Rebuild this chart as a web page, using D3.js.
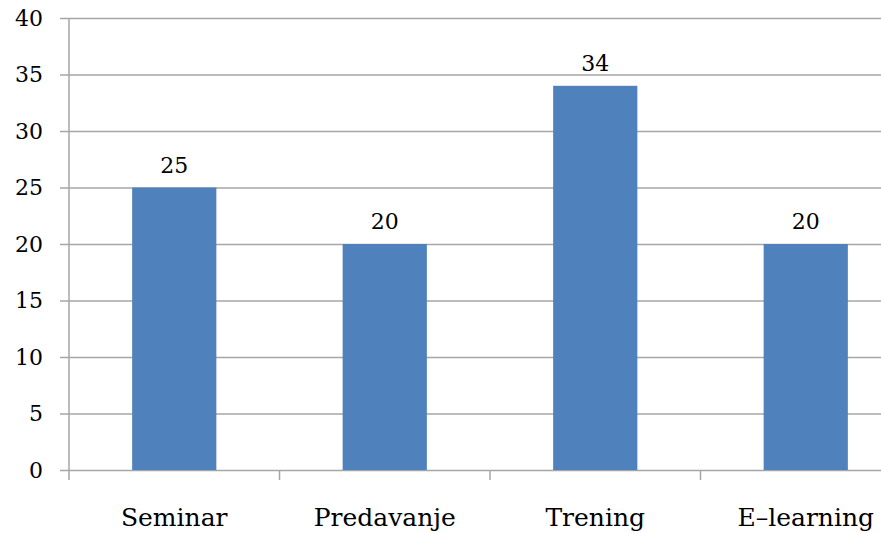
<!DOCTYPE html>
<html><head><meta charset="utf-8">
<script src="https://cdn.jsdelivr.net/npm/d3@7"></script>
<style>
body{margin:0;background:#fff;}
</style></head>
<body><svg id="c" width="881" height="533"></svg>
<script>
const categories = ["Seminar","Predavanje","Trening","E-learning"];
const values = [25,20,34,20];
const yTicks = [0,5,10,15,20,25,30,35,40];

const FONT = "'DejaVu Serif', serif";
const svg = d3.select("#c");
const x0 = 69, catW = 210.5;
const x = d3.scaleBand().domain(categories).range([x0, x0 + catW*4]).paddingInner(0.6).paddingOuter(0.3);
const y = d3.scaleLinear().domain([0,40]).range([470,18]);

// gridlines
svg.append("g").selectAll("line").data(yTicks).join("line")
  .attr("x1",60).attr("x2",881).attr("y1",d=>y(d)+0.5).attr("y2",d=>y(d)+0.5)
  .attr("stroke","#a6a6a6").attr("stroke-width",1.5);
// y axis line
svg.append("line").attr("x1",x0).attr("x2",x0).attr("y1",18).attr("y2",470).attr("stroke","#a6a6a6").attr("stroke-width",1.5);
// y labels
svg.append("g").selectAll("text").data(yTicks).join("text")
  .attr("font-family",FONT)
  .attr("x",43).attr("y",d=>y(d)).attr("dy","0.35em").attr("text-anchor","end")
  .attr("font-size",22).text(d=>d);
// x ticks
const xt = d3.range(5).map(i=>x0+i*catW);
svg.append("g").selectAll("line").data(xt).join("line")
  .attr("x1",d=>d).attr("x2",d=>d).attr("y1",470).attr("y2",480)
  .attr("stroke","#a6a6a6").attr("stroke-width",1.5);
// bars
svg.append("g").selectAll("rect").data(values).join("rect")
  .attr("x",(d,i)=>x(categories[i])).attr("width",x.bandwidth())
  .attr("y",d=>y(d)).attr("height",d=>y(0)-y(d)).attr("fill","#4f81bd");
// value labels
svg.append("g").selectAll("text").data(values).join("text")
  .attr("font-family",FONT)
  .attr("x",(d,i)=>x(categories[i])+x.bandwidth()/2).attr("y",d=>y(d)-15)
  .attr("text-anchor","middle").attr("font-size",22).text(d=>d);
// category labels
svg.append("g").selectAll("text").data(categories).join("text")
  .attr("font-family",FONT)
  .attr("x",d=>x(d)+x.bandwidth()/2).attr("y",526)
  .attr("text-anchor","middle").attr("font-size",25).text(d=>d.replace("-","–"));
</script></body></html>
